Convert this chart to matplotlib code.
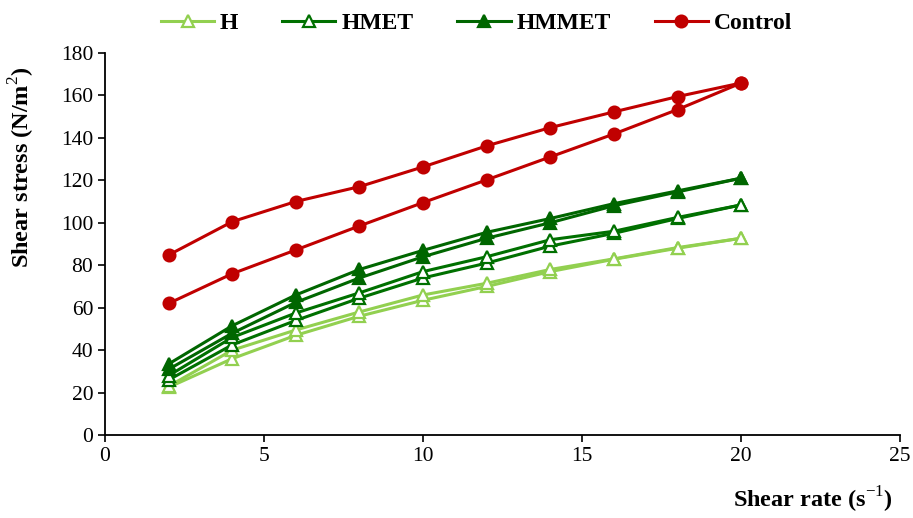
import matplotlib
matplotlib.use("Agg")
import matplotlib.pyplot as plt

# shear rate (s^-1)
shear_rate = [2, 4, 6, 8, 10, 12, 14, 16, 18, 20]

# shear stress (N/m2), up and down curves of each sample
H_up = [22.5, 36, 47, 56, 63.5, 70, 77, 82.8, 88, 92.7]
H_down = [23, 40, 49.5, 58, 66, 71.5, 78, 83, 88.3, 92.7]
HMET_up = [26, 42.5, 54, 64.5, 74, 81, 89, 95, 102, 108.4]
HMET_down = [28, 46, 57.5, 67, 77, 84, 92, 96, 102.5, 108.4]
HMMET_up = [31, 48, 62.5, 74, 84, 92.7, 100, 108, 114.5, 121]
HMMET_down = [33.5, 51.5, 66, 78, 87, 95.5, 102, 109, 115, 121]
Control_up = [62, 76, 87.2, 98.5, 109.5, 120.2, 131, 141.8, 153.3, 165.8]
Control_down = [84.8, 100.5, 110, 117, 126.3, 136.2, 144.8, 152.2, 159.4, 165.8]

plt.rcParams['font.family'] = ['Liberation Serif', 'DejaVu Serif']
plt.rcParams['mathtext.fontset'] = 'custom'
plt.rcParams['mathtext.rm'] = 'Liberation Serif'
plt.rcParams['mathtext.bf'] = 'Liberation Serif:bold'

fig = plt.figure(figsize=(9.13, 5.18), dpi=100)
ax = fig.add_axes([0.115, 0.160, 0.871, 0.738])

light = '#92D050'
dark1 = '#007000'
dark2 = '#006600'
red = '#C00000'

series = [
    ('H', H_up, H_down, light, '^', 'white'),
    ('HMET', HMET_up, HMET_down, dark1, '^', 'white'),
    ('HMMET', HMMET_up, HMMET_down, dark2, '^', dark2),
    ('Control', Control_up, Control_down, red, 'o', red),
]

for name, up, down, col, mk, fc in series:
    kw = dict(color=col, linewidth=2.2, marker=mk, markersize=8.5,
              markerfacecolor=fc, markeredgecolor=col, markeredgewidth=1.6)
    ax.plot(shear_rate, up, label=name, **kw)
    ax.plot(shear_rate, down, **kw)

ax.set_xlim(0, 25)
ax.set_ylim(0, 180)
ax.set_xticks(range(0, 26, 5))
ax.set_yticks(range(0, 181, 20))
ax.tick_params(axis='both', direction='out', length=5, width=1.2, labelsize=15.5)
for s in ['top', 'right']:
    ax.spines[s].set_visible(False)
for s in ['left', 'bottom']:
    ax.spines[s].set_linewidth(1.3)

ax.set_ylabel('Shear stress (N/m$^{\\mathrm{2}}$)', fontsize=17.5, fontweight='bold')
ax.yaxis.set_label_coords(-0.104, 0.70)
ax.yaxis.label.set_verticalalignment('center')
ax.set_xlabel('Shear rate (s$^{\\mathrm{-1}}$)', fontsize=17.5, fontweight='bold')
ax.xaxis.set_label_coords(0.991, -0.17)
ax.xaxis.label.set_horizontalalignment('right')
ax.xaxis.label.set_verticalalignment('center')

fig.legend(loc='center', bbox_to_anchor=(0.522, 0.955), ncol=4, frameon=False,
           prop={'weight': 'bold', 'size': 17}, columnspacing=1.86, handlelength=2.25,
           handletextpad=0.25)

fig.savefig('out.png', dpi=100)
